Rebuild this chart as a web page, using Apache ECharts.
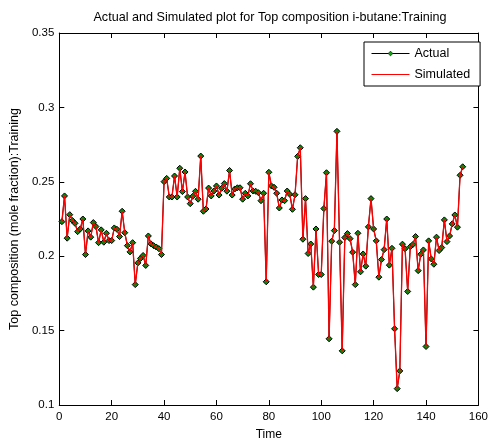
<!DOCTYPE html>
<html>
<head>
<meta charset="utf-8">
<script src="https://cdn.jsdelivr.net/npm/echarts@6/dist/echarts.min.js"></script>
<style>html,body{margin:0;padding:0;background:#fff;}#c{width:491px;height:446px;}</style>
</head>
<body>
<div id="c"></div>
<script>
const titleText = "Actual and Simulated plot for Top composition i-butane:Training";
const xLabel = "Time";
const yLabel = "Top composition (mole fraction):Training";
const seriesNames = ["Actual", "Simulated"];
const xTicks = [0, 20, 40, 60, 80, 100, 120, 140, 160];
const yTicks = [0.1, 0.15, 0.2, 0.25, 0.3, 0.35];

const actual = [
 0.2232,0.2405,0.2121,0.2279,0.2240,0.2221,0.2165,0.2183,0.2250,0.2011,
 0.2170,0.2128,0.2226,0.2199,0.2091,0.2177,0.2094,0.2154,0.2105,0.2105,
 0.2190,0.2181,0.2132,0.2302,0.2158,0.2071,0.2029,0.2091,0.1809,0.1955,
 0.1985,0.2005,0.1938,0.2136,0.2083,0.2071,0.2062,0.2051,0.2011,0.2501,
 0.2523,0.2398,0.2398,0.2539,0.2398,0.2591,0.2434,0.2566,0.2398,0.2353,
 0.2403,0.2436,0.2383,0.2673,0.2302,0.2317,0.2458,0.2405,0.2438,0.2472,
 0.2411,0.2456,0.2488,0.2437,0.2576,0.2411,0.2452,0.2460,0.2460,0.2383,
 0.2423,0.2405,0.2487,0.2438,0.2436,0.2427,0.2373,0.2423,0.1828,0.2564,
 0.2472,0.2463,0.2423,0.2324,0.2378,0.2373,0.2438,0.2416,0.2315,0.2413,
 0.2671,0.2729,0.2114,0.2387,0.2018,0.2082,0.1792,0.2183,0.1877,0.1877,
 0.2320,0.2561,0.1445,0.2101,0.2172,0.2839,0.2094,0.1364,0.2125,0.2152,
 0.2118,0.2027,0.1809,0.2154,0.1895,0.2015,0.1933,0.2197,0.2387,0.2183,
 0.2103,0.1859,0.1977,0.2044,0.2250,0.1940,0.2053,0.1512,0.1110,0.1229,
 0.2081,0.2050,0.1763,0.2064,0.2079,0.2132,0.1903,0.2013,0.2042,0.1393,
 0.2103,0.1982,0.1946,0.2128,0.2038,0.2058,0.2244,0.2098,0.2136,0.2217,
 0.2277,0.2195,0.2544,0.2601
];
// simulated output overlays the actual values (visually indistinguishable)
const simulated = [
 0.2232,0.2405,0.2121,0.2279,0.2240,0.2221,0.2165,0.2183,0.2250,0.2011,
 0.2170,0.2128,0.2226,0.2199,0.2091,0.2177,0.2094,0.2154,0.2105,0.2105,
 0.2190,0.2181,0.2132,0.2302,0.2158,0.2071,0.2029,0.2091,0.1809,0.1955,
 0.1985,0.2005,0.1938,0.2136,0.2083,0.2071,0.2062,0.2051,0.2011,0.2501,
 0.2523,0.2398,0.2398,0.2539,0.2398,0.2591,0.2434,0.2566,0.2398,0.2353,
 0.2403,0.2436,0.2383,0.2673,0.2302,0.2317,0.2458,0.2405,0.2438,0.2472,
 0.2411,0.2456,0.2488,0.2437,0.2576,0.2411,0.2452,0.2460,0.2460,0.2383,
 0.2423,0.2405,0.2487,0.2438,0.2436,0.2427,0.2373,0.2423,0.1828,0.2564,
 0.2472,0.2463,0.2423,0.2324,0.2378,0.2373,0.2438,0.2416,0.2315,0.2413,
 0.2671,0.2729,0.2114,0.2387,0.2018,0.2082,0.1792,0.2183,0.1877,0.1877,
 0.2320,0.2561,0.1445,0.2101,0.2172,0.2839,0.2094,0.1364,0.2125,0.2152,
 0.2118,0.2027,0.1809,0.2154,0.1895,0.2015,0.1933,0.2197,0.2387,0.2183,
 0.2103,0.1859,0.1977,0.2044,0.2250,0.1940,0.2053,0.1512,0.1110,0.1229,
 0.2081,0.2050,0.1763,0.2064,0.2079,0.2132,0.1903,0.2013,0.2042,0.1393,
 0.2103,0.1982,0.1946,0.2128,0.2038,0.2058,0.2244,0.2098,0.2136,0.2217,
 0.2277,0.2195,0.2544,0.2601
];

const actualData = actual.map((v, i) => [i + 1, v]);
const simData = simulated.map((v, i) => [i + 1, v]);

const FONT = "Liberation Sans, Arial, Helvetica, sans-serif";
const fs = 11.5;

function baseX(extra) {
  return Object.assign({
    type: 'value', min: xTicks[0], max: xTicks[xTicks.length - 1], interval: 20,
    axisLine: { show: true, onZero: false, lineStyle: { color: '#000', width: 1 } },
    axisTick: { show: true, inside: true, length: 5, lineStyle: { color: '#000' } },
    splitLine: { show: false }
  }, extra);
}
function baseY(extra) {
  return Object.assign({
    type: 'value', min: yTicks[0], max: yTicks[yTicks.length - 1], interval: 0.05,
    axisLine: { show: true, onZero: false, lineStyle: { color: '#000', width: 1 } },
    axisTick: { show: true, inside: true, length: 5, lineStyle: { color: '#000' } },
    splitLine: { show: false }
  }, extra);
}

const chart = echarts.init(document.getElementById('c'), null, { renderer: 'canvas' });
chart.setOption({
  animation: false,
  backgroundColor: '#fff',
  title: {
    text: titleText, left: 265, top: 6, textAlign: 'center',
    textStyle: { fontFamily: FONT, fontSize: 12.6, fontWeight: 'normal', color: '#000' }
  },
  grid: { left: 58, top: 33, width: 424, height: 372, containLabel: false },
  legend: {
    orient: 'vertical', left: 364, top: 42,
    data: [
      { name: seriesNames[0], itemStyle: { color: '#10a010', borderColor: '#000', borderWidth: 0.5 } },
      { name: seriesNames[1], itemStyle: { opacity: 0 } }
    ],
    backgroundColor: '#fff', borderColor: '#000', borderWidth: 1,
    padding: [5, 10, 5, 7], itemGap: 8, itemWidth: 38, itemHeight: 6,
    lineStyle: { width: 1 },
    textStyle: { fontFamily: FONT, fontSize: 12.5, color: '#000' }
  },
  xAxis: [
    baseX({
      position: 'bottom', name: xLabel, nameLocation: 'middle', nameGap: 24,
      nameTextStyle: { fontFamily: FONT, fontSize: 12, color: '#000' },
      axisLabel: { show: true, margin: 6, fontFamily: FONT, fontSize: fs, color: '#000' }
    }),
    baseX({ position: 'top', axisLabel: { show: false } })
  ],
  yAxis: [
    baseY({
      position: 'left', name: yLabel, nameLocation: 'middle', nameGap: 32,
      nameTextStyle: { fontFamily: FONT, fontSize: 12.5, color: '#000' },
      axisLabel: {
        show: true, margin: 5, fontFamily: FONT, fontSize: fs, color: '#000',
        formatter: v => String(parseFloat(v.toFixed(2)))
      }
    }),
    baseY({ position: 'right', axisLabel: { show: false } })
  ],
  series: [
    {
      name: seriesNames[0], type: 'line', data: actualData,
      xAxisIndex: 0, yAxisIndex: 0,
      symbol: 'diamond', symbolSize: 6, showSymbol: true,
      lineStyle: { color: '#000', width: 1 },
      itemStyle: { color: '#0a8a0a', borderColor: '#000', borderWidth: 1 },
      z: 2
    },
    {
      name: seriesNames[1], type: 'line', data: simData,
      xAxisIndex: 0, yAxisIndex: 0,
      symbol: 'none', showSymbol: false,
      lineStyle: { color: '#ff0000', width: 1.3 },
      itemStyle: { color: '#ff0000' },
      z: 3
    }
  ]
});
</script>
</body>
</html>
